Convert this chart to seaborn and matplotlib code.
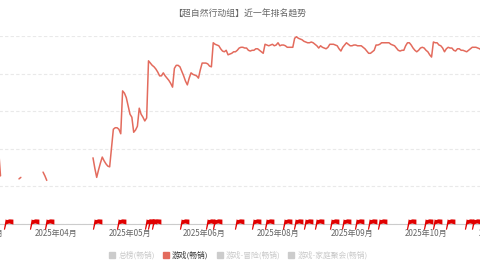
import numpy as np
import pandas as pd
import matplotlib
matplotlib.use("Agg")
import matplotlib.pyplot as plt
from matplotlib.path import Path
from matplotlib.lines import Line2D
import seaborn as sns

# ---------------- data ----------------
title = "【超自然行动组】近一年排名趋势"
start_date = "2025-03-10"          # date of the first value below
# daily rank of 游戏(畅销); None = not ranked (line break)
ranks = (
    [152, 186] + [None] * 9 +
    [190, 188] + [None] * 11 +
    [181, 186, 192] + [None] * 24 +
    [162, 176, 188, 178, 169, 161, 166, 170, 173, 174,
     149, 124, 122, 122, 124, 130, 73, 76, 82, 93,
     104, 108, 128, 125, 120, 96, 104, 108, 113, 109,
     33, 36, 39, 41, 44, 48, 53, 53, 49, 53,
     56, 59, 63, 68, 43, 39, 39, 41, 47, 53,
     60, 65, 56, 49, 51, 52, 53, 56, 45, 36,
     36, 36, 37, 40, 41, 9, 11, 12, 13, 17,
     20, 21, 19, 25, 24, 23, 21, 21, 19, 16,
     15, 15, 16, 16, 19, 20, 19, 19, 17, 17,
     19, 21, 23, 11, 12, 13, 12, 11, 13, 12,
     9, 13, 12, 12, 13, 15, 15, 15, 15, 3,
     1, 3, 4, 5, 7, 8, 9, 9, 8, 9,
     11, 13, 16, 13, 15, 16, 17, 15, 11, 11,
     11, 12, 13, 17, 20, 15, 12, 9, 11, 13,
     13, 12, 12, 13, 13, 13, 15, 17, 20, 23,
     23, 21, 19, 12, 12, 11, 9, 9, 9, 9,
     9, 11, 12, 13, 16, 19, 20, 19, 19, 13,
     9, 9, 12, 16, 19, 21, 19, 16, 15, 16,
     19, 21, 25, 28, 8, 9, 9, 12, 13, 16,
     21, 17, 15, 16, 16, 19, 20, 17, 17, 19,
     19, 20, 21, 19, 17, 15, 15, 15, 16, 17, 19]
)
# dates of event flags on the axis
flag_dates = ["2025-03-15", "2025-03-29", "2025-04-06", "2025-05-02", "2025-05-15",
              "2025-05-30", "2025-06-01", "2025-06-03", "2025-06-18", "2025-07-02",
              "2025-07-06", "2025-07-18", "2025-07-27", "2025-08-03", "2025-08-13",
              "2025-08-19", "2025-08-24", "2025-08-30", "2025-09-07", "2025-09-14",
              "2025-09-21", "2025-09-28", "2025-10-03", "2025-10-19", "2025-10-28",
              "2025-11-02", "2025-11-09", "2025-11-19", "2025-11-23"]
tick_dates = ["2025-03-01", "2025-04-10", "2025-05-20", "2025-06-29",
              "2025-08-08", "2025-09-17", "2025-10-27", "2025-12-06"]
tick_labels = ["2025年03月", "2025年04月", "2025年05月", "2025年06月",
               "2025年08月", "2025年09月", "2025年10月", "2025年12月"]
legend_labels = ["总榜(畅销)", "游戏(畅销)", "游戏-冒险(畅销)", "游戏-家庭聚会(畅销)"]
legend_active = [False, True, False, False]
y_ticks = [0, 50, 100, 150, 200, 250]

# ---------------- build frame ----------------
dates = pd.date_range(start_date, periods=len(ranks), freq="D")
df = pd.DataFrame({"date": dates, "rank": pd.array(ranks, dtype="Float64").astype(float)})
df["seg"] = df["rank"].isna().cumsum()
df = df.dropna()

flags = pd.DataFrame({"date": pd.to_datetime(flag_dates), "rank": y_ticks[-1]})

# ---------------- style ----------------
sns.set_style("white")
plt.rcParams["font.family"] = ["Noto Sans CJK SC", "DejaVu Sans"]

line_color = "#e36b5d"
flag_color = "#e00000"
grey_txt = "#666666"

fig = plt.figure(figsize=(4.8, 2.7), dpi=100)
W, H = 480, 270
px_left, px_right = -48, 528
ax = fig.add_axes([px_left / W, 1 - 224 / H, (px_right - px_left) / W, (224 - 36) / H])

sns.lineplot(data=df, x="date", y="rank", units="seg", estimator=None,
             color=line_color, linewidth=1.1, ax=ax, legend=False)

# flag marker
flag_path = Path([(-0.9, -1.0), (-0.68, -1.0), (-0.42, 0.05), (0.15, 0.2),
                  (0.95, 0.0), (0.95, 0.95), (0.2, 1.0), (-0.3, 0.85),
                  (-0.55, 1.0), (-0.9, -1.0)], closed=True)
sns.scatterplot(data=flags, x="date", y="rank", marker=flag_path, s=55,
                color=flag_color, linewidth=0, ax=ax, clip_on=False, zorder=5,
                legend=False)

# x range: pixel -> date mapping (1.85 px per day, 2025-03-01 at px -18)
base = pd.Timestamp("2025-03-01")
ax.set_xlim(base + pd.Timedelta(days=(px_left + 18) / 1.85),
            base + pd.Timedelta(days=(px_right + 18) / 1.85))
ax.set_ylim(y_ticks[-1], y_ticks[0])

ax.set_xticks(pd.to_datetime(tick_dates))
ax.set_xticklabels(tick_labels)
ax.set_yticks(y_ticks)
ax.set_yticklabels([])
ax.tick_params(axis="x", length=0, pad=3.5, labelsize=5.8, labelcolor=grey_txt)
ax.tick_params(axis="y", length=0)
ax.set_xlabel("")
ax.set_ylabel("")
ax.grid(axis="y", color="#e9e9e9", linestyle=(0, (3, 2)), linewidth=0.8)
ax.grid(axis="x", visible=False)
for s in ["top", "left", "right"]:
    ax.spines[s].set_visible(False)
ax.spines["bottom"].set_color("#cccccc")
ax.spines["bottom"].set_linewidth(0.8)

fig.text(0.5, 1 - 14 / H, title, ha="center", va="center", fontsize=6.4, color=grey_txt)

handles = []
for lab, act in zip(legend_labels, legend_active):
    c = line_color if act else "#cccccc"
    handles.append(Line2D([], [], marker="s", linestyle="", markersize=5,
                          markerfacecolor=c, markeredgecolor=c))
leg = fig.legend(handles, legend_labels, loc="center", bbox_to_anchor=(0.497, 1 - 255 / H),
                 ncol=4, frameon=False, handlelength=0.8, handletextpad=0.4,
                 columnspacing=1.0, fontsize=5.6)
for t, act in zip(leg.get_texts(), legend_active):
    t.set_color("#333333" if act else "#c8c8c8")

fig.savefig("out.png", dpi=100)
